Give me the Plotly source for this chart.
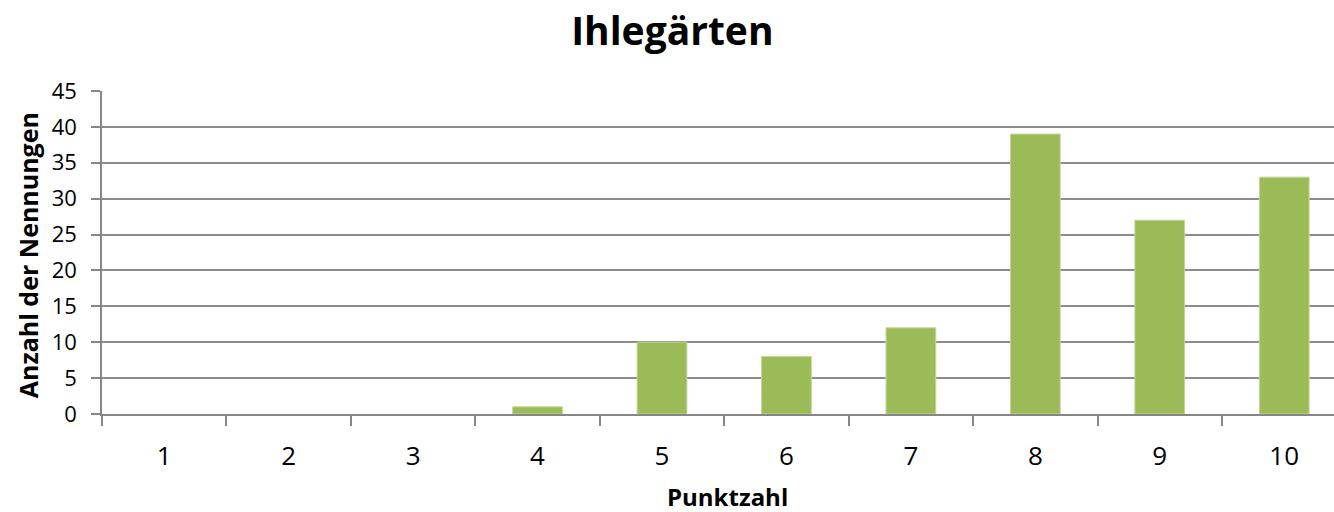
import plotly.graph_objects as go

categories = [1, 2, 3, 4, 5, 6, 7, 8, 9, 10]
values = [0, 0, 0, 1, 10, 8, 12, 39, 27, 33]
y_ticks = [0, 5, 10, 15, 20, 25, 30, 35, 40, 45]

FONT = "Open Sans"

fig = go.Figure(go.Bar(
    x=categories, y=values,
    marker=dict(color="#9BBB59",
                line=dict(color="#C3D69B", width=[0 if v == 0 else 1 for v in values])),
    width=0.4,
))

fig.update_layout(
    width=1334, height=512,
    margin=dict(l=102, r=0, t=91, b=98),
    plot_bgcolor="white", paper_bgcolor="white",
    showlegend=False,
    title=dict(text="<b>Ihlegärten</b>", x=0.504, xanchor="center", y=0.938, yanchor="middle",
               font=dict(family=FONT, size=39, color="black")),
    font=dict(family=FONT, color="black"),
    annotations=[
        dict(text="<b>Punktzahl</b>", xref="paper", yref="paper", x=0.508, y=-0.255,
             xanchor="center", yanchor="middle", showarrow=False,
             font=dict(family=FONT, size=24, color="black")),
        dict(text="<b>Anzahl der Nennungen</b>", xref="paper", yref="paper", x=-0.060, y=0.492,
             xanchor="center", yanchor="middle", showarrow=False, textangle=-90,
             font=dict(family=FONT, size=25, color="black")),
    ],
)

fig.update_xaxes(
    type="linear", range=[0.5, 10.4],
    tickvals=categories, ticktext=[str(c) for c in categories],
    showgrid=False, zeroline=False,
    showline=True, linecolor="#868686", linewidth=1.5,
    ticks="outside", ticklen=0,
    tickfont=dict(family=FONT, size=26, color="black"),
    ticklabelstandoff=18,
)
# boundary tick marks between categories
fig.update_xaxes(minor=dict(tickvals=[c + 0.5 for c in categories[:-1]] + [0.5],
                            ticks="outside", ticklen=10, tickcolor="#868686", tickwidth=1.5))

fig.update_yaxes(
    range=[0, 45], tickvals=y_ticks,
    showgrid=True, gridcolor="#8C8C8C", gridwidth=1.5,
    zeroline=False,
    showline=True, linecolor="#868686", linewidth=1.5,
    ticks="outside", ticklen=9, tickcolor="#868686", tickwidth=1.5,
    tickfont=dict(family=FONT, size=22, color="black"),
    ticklabelstandoff=10,
)

fig.write_html("out.html", config={"displayModeBar": False},
               post_script="document.body.style.margin='0px';")
